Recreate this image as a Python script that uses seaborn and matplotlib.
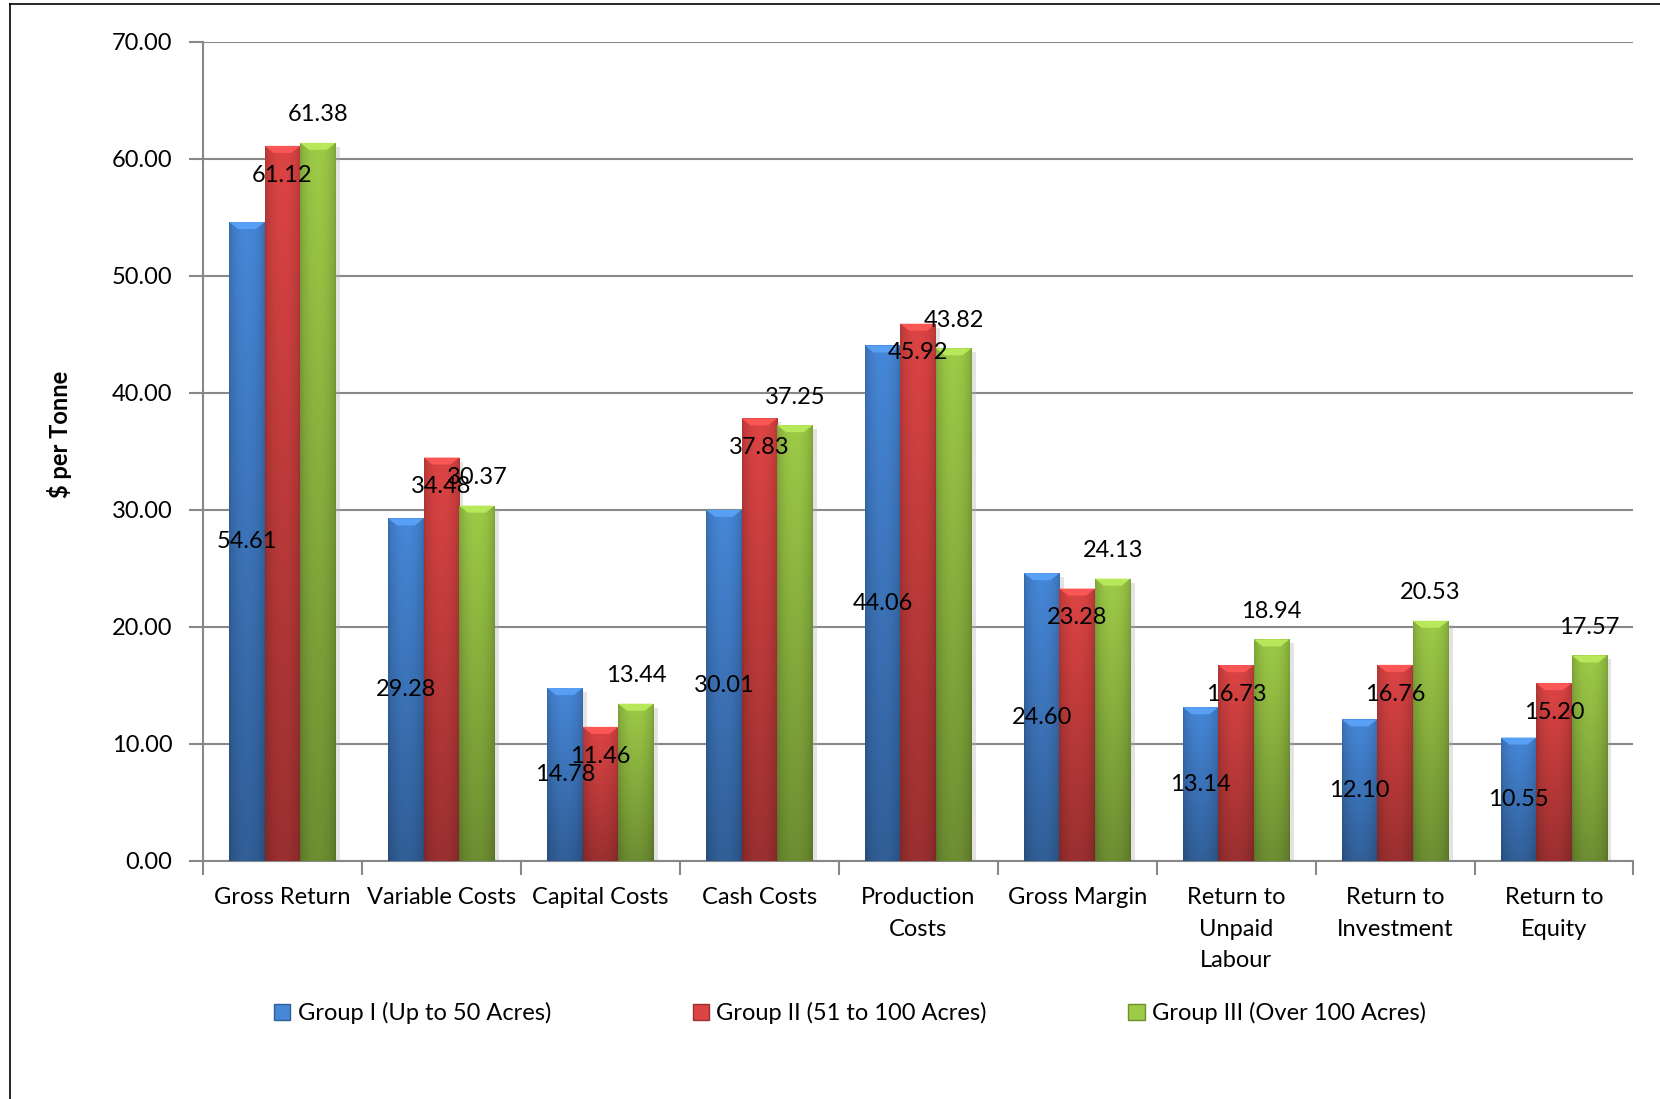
import numpy as np
import pandas as pd
import seaborn as sns
import matplotlib.pyplot as plt
from matplotlib.colors import to_rgb
from matplotlib.patches import Polygon
from matplotlib.lines import Line2D
from matplotlib.ticker import FixedLocator, FormatStrFormatter

# dados
categories = ['Gross Return', 'Variable Costs', 'Capital Costs', 'Cash Costs',
              'Production Costs', 'Gross Margin', 'Return to Unpaid Labour',
              'Return to Investment', 'Return to Equity']
tick_labels = ['Gross Return', 'Variable Costs', 'Capital Costs', 'Cash Costs',
               'Production\nCosts', 'Gross Margin', 'Return to\nUnpaid\nLabour',
               'Return to\nInvestment', 'Return to\nEquity']
groups = ['Group I (Up to 50 Acres)', 'Group II (51 to 100 Acres)', 'Group III (Over 100 Acres)']
group1 = [54.61, 29.28, 14.78, 30.01, 44.06, 24.60, 13.14, 12.10, 10.55]
group2 = [61.12, 34.48, 11.46, 37.83, 45.92, 23.28, 16.73, 16.76, 15.20]
group3 = [61.38, 30.37, 13.44, 37.25, 43.82, 24.13, 18.94, 20.53, 17.57]
colors = ['#4687d8', '#dd4444', '#9dcb47']

df = pd.DataFrame({
    'Category': categories * 3,
    'Value': group1 + group2 + group3,
    'Group': [g for g in groups for _ in categories],
})

FS = 17
plt.rcParams['font.family'] = ['Lato', 'DejaVu Sans']
fig = plt.figure(figsize=(16.6, 10.99), dpi=100)
ax = fig.add_axes([0.1223, 0.2166, 0.8617, 0.7452])

sns.barplot(data=df, x='Category', y='Value', hue='Group', palette=colors,
            width=0.67, gap=0, legend=False, ax=ax, zorder=3, linewidth=0)

# sombreado tipo Excel (cilindro + bisel no topo)
xs = np.linspace(0, 1, 40)
ys = np.linspace(0, 1, 80)
hx = 0.80 + 0.20 * np.sin(np.pi * xs) ** 0.6
vy = 0.70 + 0.30 * ys
for cont, col in zip(ax.containers, colors):
    base = np.array(to_rgb(col))
    img = np.clip(base[None, None, :] * vy[:, None, None] * hx[None, :, None], 0, 1)
    for p in cont.patches:
        x, y = p.get_x(), p.get_y()
        w, h = p.get_width(), p.get_height()
        # sombra
        ax.add_patch(plt.Rectangle((x + w * 0.12, y - 0.35), w, h, color='#b0b0b0',
                                   alpha=0.35, lw=0, zorder=2.5))
        im = ax.imshow(img, extent=[x, x + w, y, y + h], origin='lower',
                       aspect='auto', zorder=3.1, interpolation='bilinear')
        im.set_clip_path(p)
        bh = 0.6
        d = w * 0.25
        top = y + h
        light = np.clip(base * 1.08 + 0.05, 0, 1)
        ax.add_patch(Polygon([(x, top), (x + w, top), (x + w - d, top - bh), (x + d, top - bh)],
                             closed=True, color=light, lw=0, zorder=3.2))

# rótulos de dados
offsets = [None, -2.5, 2.4]
for i, cont in enumerate(ax.containers):
    for p in cont.patches:
        v = p.get_height()
        cx = p.get_x() + p.get_width() / 2
        ty = v / 2 if i == 0 else v + offsets[i]
        ax.text(cx, ty, f'{v:.2f}', ha='center', va='center', fontsize=FS,
                color='black', zorder=5)

ax.set_xlim(-0.5, len(categories) - 0.5)
ax.set_ylim(0, 70)
ax.yaxis.set_major_locator(FixedLocator(np.arange(0, 71, 10)))
ax.yaxis.set_major_formatter(FormatStrFormatter('%.2f'))
ax.yaxis.grid(True, color='#888888', lw=1.5, zorder=0)
ax.set_axisbelow(True)

ax.set_xticks(range(len(categories)))
ax.set_xticklabels(tick_labels, fontsize=FS, linespacing=1.6, va='top')
ax.set_xticks(np.arange(-0.5, len(categories)), minor=True)
ax.tick_params(axis='x', which='major', length=0, pad=19)
ax.tick_params(axis='x', which='minor', length=10, width=1.5, color='#888888', direction='out')
ax.tick_params(axis='y', length=10, width=1.5, color='#888888', labelsize=FS, pad=12)
ax.set_xlabel('')
ax.set_ylabel('')
for s in ['top', 'right']:
    ax.spines[s].set_visible(False)
for s in ['left', 'bottom']:
    ax.spines[s].set_color('#888888')
    ax.spines[s].set_linewidth(1.5)

fig.text(60 / 1660, 1 - 434 / 1099, '$ per Tonne', rotation=90, fontsize=FS,
         fontweight='bold', ha='center', va='center')

handles = [plt.Rectangle((0, 0), 1, 1, facecolor=c, edgecolor=np.array(to_rgb(c)) * 0.7, lw=1)
           for c in colors]
fig.legend(handles, groups, loc='center', bbox_to_anchor=(0.512, 1 - 1013 / 1099),
           ncol=3, frameon=False, fontsize=FS, handlelength=0.7, handleheight=0.7,
           handletextpad=0.3, columnspacing=6.0)

# moldura
fig.add_artist(Line2D([9.5 / 1660, 9.5 / 1660], [0, 1 - 4 / 1099], color='black', lw=1.2,
                      transform=fig.transFigure))
fig.add_artist(Line2D([9.5 / 1660, 1], [1 - 4 / 1099, 1 - 4 / 1099], color='black', lw=1.2,
                      transform=fig.transFigure))

fig.savefig('out.png', dpi=100, facecolor='white')
